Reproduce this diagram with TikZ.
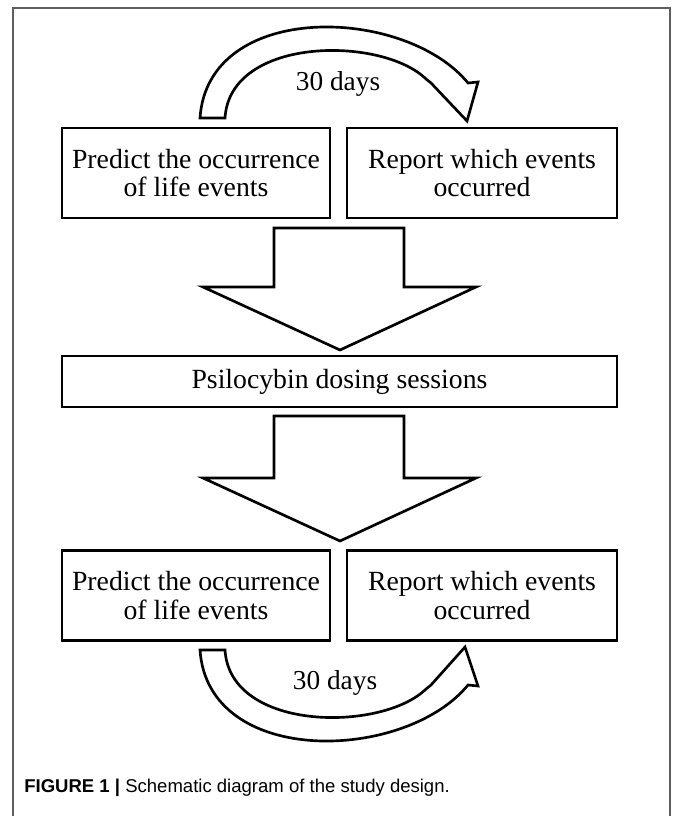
\documentclass[tikz,border=0pt]{standalone}
\usepackage{fontspec}
\setmainfont{Liberation Serif}
\setsansfont{Liberation Sans}
\definecolor{framegray}{RGB}{95,95,95}
\begin{document}
\begin{tikzpicture}[x=0.75pt, y=-0.75pt, line width=2pt,
  box/.style={draw, line width=2pt, inner sep=0pt, align=center,
    font=\fontsize{20.8}{21.5}\selectfont},
  blockarrow/.style={draw, line width=2pt, line join=miter, fill=white},
  daytext/.style={font=\fontsize{20.5}{22}\selectfont}]
  \useasboundingbox (0,0) rectangle (672,816);
  \draw[framegray, line width=1.2pt] (13,830) -- (13,8) -- (670,8) -- (670,830);
  % boxes
  \node[box, minimum width=201pt, minimum height=67.5pt] (predictA) at (196,173) {Predict the occurrence\\of life events};
  \node[box, minimum width=202.5pt, minimum height=67.5pt] (reportA) at (482,173) {Report which events\\occurred};
  \node[box, minimum width=416.25pt, minimum height=38.25pt] (dosing) at (339.5,381.5) {Psilocybin dosing sessions};
  \node[box, minimum width=201pt, minimum height=67.5pt] (predictB) at (196,595.5) {Predict the occurrence\\of life events};
  \node[box, minimum width=202.5pt, minimum height=67.5pt] (reportB) at (482,595.5) {Report which events\\occurred};
  % down arrows
  \draw[blockarrow] (274,228) -- (404,228) -- (404,287) -- (476,287) -- (340,350) -- (203,287) -- (274,287) -- cycle;
  \draw[blockarrow] (274,416) -- (404,416) -- (404,478) -- (476,478) -- (340,541) -- (203,478) -- (274,478) -- cycle;
  % curved arrows
  \draw[blockarrow] (200,118) .. controls (208,0) and (405,6) .. (468,83) -- (478,82) -- (467,121)
    -- (431,83) -- (426,79) .. controls (382,36) and (230,36) .. (225,118) -- cycle;
  \draw[blockarrow] (200,650) .. controls (208,768) and (405,762) .. (468,685) -- (478,686) -- (465,647)
    -- (431,685) -- (426,689) .. controls (382,732) and (230,732) .. (225,650) -- cycle;
  \node[daytext] (daysA) at (338,84) {30 days};
  \node[daytext] (daysB) at (335,683) {30 days};
  % caption
  \node[anchor=west, inner sep=0pt, font=\sffamily\fontsize{13.9}{15}\selectfont] (caption) at (23,788)
    {\textbf{FIGURE 1 |} Schematic diagram of the study design.};
\end{tikzpicture}
\end{document}
